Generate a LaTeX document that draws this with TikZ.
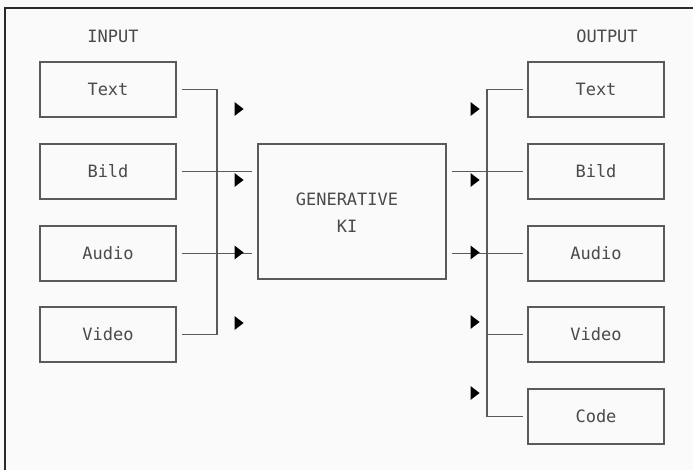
\documentclass[tikz,border=0pt]{standalone}
\usepackage{fontspec}
\setmonofont{DejaVu Sans Mono}
\usetikzlibrary{shapes.geometric}
\definecolor{bg}{HTML}{FAFAFA}
\definecolor{ln}{HTML}{5A5A5C}
\definecolor{tx}{HTML}{4A4A4C}
\definecolor{fr}{HTML}{2A2A2A}
\tikzset{
  box/.style={draw=ln, line width=1.8pt, minimum width=136pt, minimum height=55pt, inner sep=0pt, text=tx, font=\ttfamily\fontsize{17}{20}\selectfont},
  bigbox/.style={draw=ln, line width=1.8pt, minimum width=188pt, minimum height=135pt, inner sep=0pt},
  lbl/.style={text=tx, font=\ttfamily\fontsize{17}{20}\selectfont, inner sep=0pt},
  conn/.style={draw=ln, line width=1.8pt},
  tri/.style={isosceles triangle, isosceles triangle apex angle=75, fill=black, inner sep=0pt, minimum width=8pt, minimum height=9pt, draw=none, shape border rotate=0}
}
\begin{document}
\begin{tikzpicture}[x=1pt,y=-1pt]
\useasboundingbox (0,0) rectangle (693,470);
\fill[bg] (0,0) rectangle (693,470);
\draw[fr, line width=1.6pt] (5,470) -- (5,8) -- (693,8);

% labels
\node[lbl] (inlbl) at (113,36) {INPUT};
\node[lbl] (outlbl) at (607,36) {OUTPUT};

% input boxes
\node[box] (iText)  at (108,89.5)  {Text};
\node[box] (iBild)  at (108,171.5) {Bild};
\node[box] (iAudio) at (108,253.5) {Audio};
\node[box] (iVideo) at (108,334.5) {Video};

% central
\node[bigbox] (gen) at (352,211.5) {};
\node[lbl] (gen1) at (347,199) {GENERATIVE};
\node[lbl] (gen2) at (347,226) {KI};

% output boxes
\node[box] (oText)  at (596,89.5)  {Text};
\node[box] (oBild)  at (596,171.5) {Bild};
\node[box] (oAudio) at (596,253.5) {Audio};
\node[box] (oVideo) at (596,334.5) {Video};
\node[box] (oCode)  at (596,416.5) {Code};

% left bus
\coordinate (lbT) at (217,89.5);
\coordinate (lbV) at (217,334.5);
\draw[conn] ([xshift=5pt]iText.east) -- (lbT) -- (lbV) -- ([xshift=5pt]iVideo.east);
\draw[conn] ([xshift=5pt]iBild.east) -- ([xshift=-5pt]gen.west |- iBild.east);
\draw[conn] ([xshift=5pt]iAudio.east) -- ([xshift=-5pt]gen.west |- iAudio.east);

% right bus
\coordinate (rbT) at (487,89.5);
\coordinate (rbC) at (487,416.5);
\draw[conn] ([xshift=-4pt]oText.west) -- (rbT) -- (rbC) -- ([xshift=-4pt]oCode.west);
\draw[conn] (rbT |- oVideo.west) -- ([xshift=-4pt]oVideo.west);
\draw[conn] ([xshift=5pt]gen.east |- oBild.west) -- ([xshift=-4pt]oBild.west);
\draw[conn] ([xshift=5pt]gen.east |- oAudio.west) -- ([xshift=-4pt]oAudio.west);

% arrowheads
\node[tri] (la1) at (238,109) {};
\node[tri] (la2) at (238,180) {};
\node[tri] (la3) at (238,252.5) {};
\node[tri] (la4) at (238,323) {};
\node[tri] (ra1) at (474,109) {};
\node[tri] (ra2) at (474,180) {};
\node[tri] (ra3) at (474,252.5) {};
\node[tri] (ra4) at (474,322) {};
\node[tri] (ra5) at (474,393) {};
\end{tikzpicture}
\end{document}
